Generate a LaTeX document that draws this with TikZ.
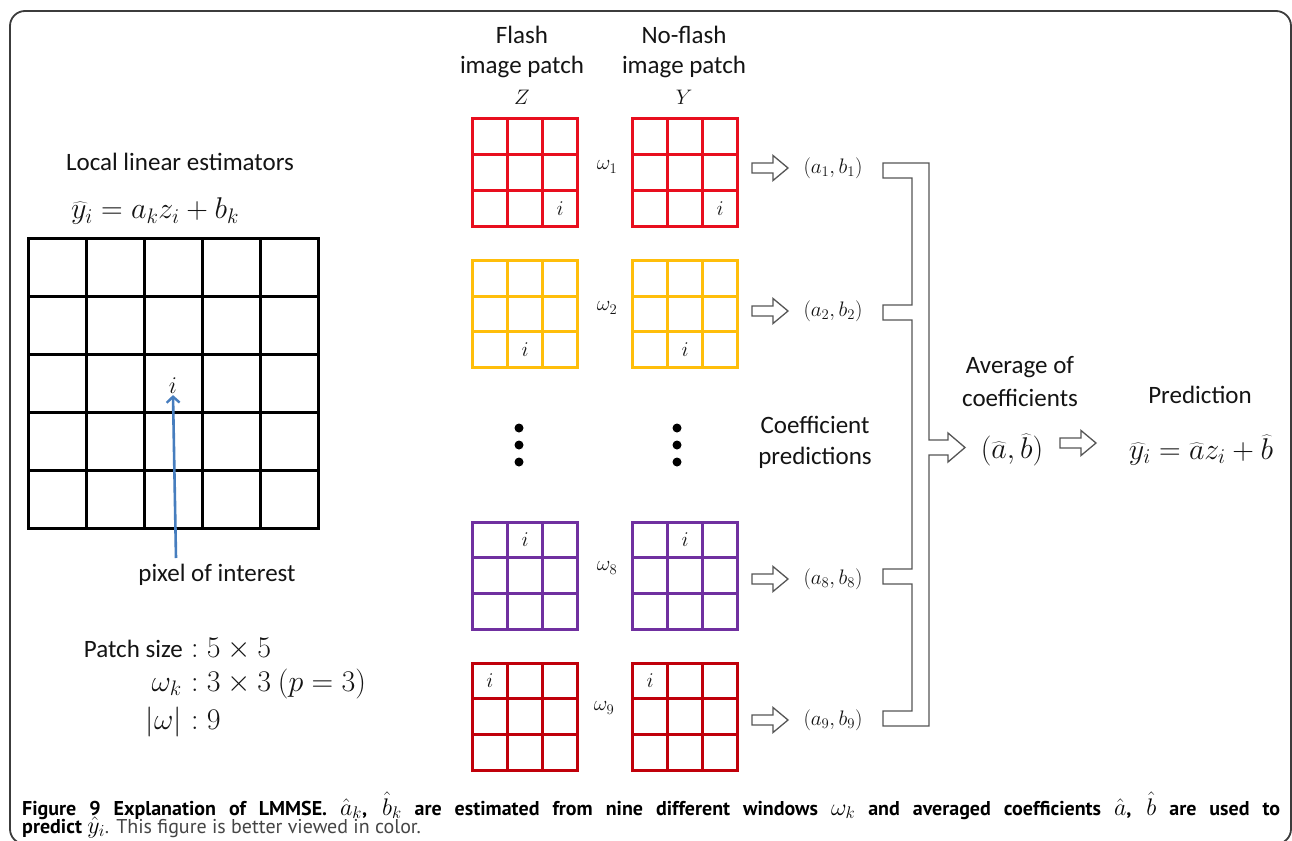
\RequirePackage{fix-cm}
\documentclass[tikz,border=0pt]{standalone}
\usepackage[no-math]{fontspec}
\setmainfont{Carlito}
\newfontfamily\capfont{PT Sans}
\usetikzlibrary{calc,arrows.meta}

\definecolor{ink}{RGB}{20,20,20}
\definecolor{framegray}{RGB}{60,60,60}
\definecolor{brgray}{RGB}{85,85,85}
\definecolor{pred}{RGB}{232,14,30}
\definecolor{pyellow}{RGB}{255,190,10}
\definecolor{ppurple}{RGB}{112,48,160}
\definecolor{pdark}{RGB}{192,0,10}
\definecolor{ptr}{RGB}{70,125,190}
\definecolor{capgray}{RGB}{70,70,70}

\tikzset{
  lbl/.style={font=\fontsize{25}{30}\selectfont, text=ink, inner sep=0},
  bigmath/.style={font=\fontsize{30}{36}\selectfont, text=ink, inner sep=0},
  smallmath/.style={font=\fontsize{21}{25}\selectfont, text=ink, inner sep=0},
  capline/.style={anchor=base west, inner sep=0, font=\capfont\fontsize{20}{22}\selectfont},
  patchbox/.style={draw, line width=3, minimum width=105, minimum height=107, inner sep=0, outer sep=0},
  patchline/.style={line width=3},
  bigbox/.style={draw=black, line width=3, minimum width=290, minimum height=290, inner sep=0, outer sep=0},
  gridline/.style={line width=3, draw=black},
  hollow/.style={draw=brgray, line width=1.3, fill=white, line join=miter},
  harrow/.pic={\draw[hollow] (0,-5) -- (21,-5) -- (21,-12.5) -- (36,0) -- (21,12.5) -- (21,5) -- (0,5) -- cycle;},
  dot/.style={circle, fill=black, minimum size=9, inner sep=0},
}

% math inside the caption, set a little larger than the caption text
\newcommand{\capm}[1]{{\fontsize{24}{24}\selectfont$#1$}}

% 3x3 window: name, centre x, centre y, colour, column and row of pixel i
\newcommand{\mkpatch}[6]{%
  \node[patchbox, draw=#4] (#1) at (#2,#3) {};
  \foreach \t in {1,2} {
    \draw[patchline, draw=#4] ($(#1.north west)!\t/3!(#1.north east)$) -- ($(#1.south west)!\t/3!(#1.south east)$);
    \draw[patchline, draw=#4] ($(#1.north west)!\t/3!(#1.south west)$) -- ($(#1.north east)!\t/3!(#1.south east)$);
  }
  \node[smallmath] (#1i) at ($(#1.north west)!{(#5-0.5)/3}!(#1.north east) + (0,{(#6-0.5)*107/3})$) {$i$};
}

\begin{document}
\begin{tikzpicture}[x=1pt,y=-1pt]
\useasboundingbox (0,0) rectangle (1292,840);
\clip (0,0) rectangle (1292,840);
\fill[white] (0,0) rectangle (1292,840);
\draw[draw=framegray, line width=1.8, rounded corners=15] (10,11) rectangle (1291,844);

% ---- left: local estimator on the 5x5 patch
\node[lbl] (title) at (180,162) {Local linear estimators};
\node[bigmath] (model) at (155,211) {$\widehat{y}_i = a_k z_i + b_k$};
\node[bigbox] (big) at (173.5,383) {};
\foreach \t in {1,...,4} {
  \draw[gridline] ($(big.north west)!\t/5!(big.north east)$) -- ($(big.south west)!\t/5!(big.south east)$);
  \draw[gridline] ($(big.north west)!\t/5!(big.south west)$) -- ($(big.north east)!\t/5!(big.south east)$);
}
\node[smallmath, font=\fontsize{24}{28}\selectfont] (ci) at (173,386) {$i$};
\node[lbl] (poi) at (217,575) {pixel of interest};
\coordinate (tail) at (176,558);
\draw[draw=ptr, line width=2.6, -{Straight Barb[length=6,width=13,line width=2.4]}] (tail) -- ([yshift=-1]ci.south);

% ---- parameters
\node[lbl, anchor=base east] (ps) at (183,657) {Patch size};
\node[bigmath, anchor=base west] (psv) at (191,657) {$:5\times 5$};
\node[bigmath, anchor=base east] (wk) at (182,691) {$\omega_k$};
\node[bigmath, anchor=base west] (wkv) at (191,691) {$:3\times 3\ (p=3)$};
\node[bigmath, anchor=base east] (wn) at (182,729) {$|\omega|$};
\node[bigmath, anchor=base west] (wnv) at (191,729) {$:9$};

% ---- column headers
\node[lbl] (h1a) at (522,35) {Flash};
\node[lbl] (h1b) at (522,67) {image patch};
\node[smallmath] (h1c) at (522,97) {$Z$};
\node[lbl] (h2a) at (684,35) {No-flash};
\node[lbl] (h2b) at (684,67) {image patch};
\node[smallmath] (h2c) at (684,97) {$Y$};

% ---- windows
\mkpatch{f1}{525}{172.5}{pred}{3}{3}
\mkpatch{n1}{685}{172.5}{pred}{3}{3}
\mkpatch{f2}{525}{314}{pyellow}{2}{3}
\mkpatch{n2}{685}{314}{pyellow}{2}{3}
\mkpatch{f8}{525}{575.5}{ppurple}{2}{1}
\mkpatch{n8}{685}{575.5}{ppurple}{2}{1}
\mkpatch{f9}{525}{716.5}{pdark}{1}{1}
\mkpatch{n9}{685}{716.5}{pdark}{1}{1}

\node[smallmath] (w1) at (607,167) {$\omega_1$};
\node[smallmath] (w2) at (607,308) {$\omega_2$};
\node[smallmath] (w8) at (607,568) {$\omega_8$};
\node[smallmath] (w9) at (604,708) {$\omega_9$};

\foreach \d/\y in {1/428,2/445,3/462} {
  \node[dot] (da\d) at (519,\y) {};
  \node[dot] (db\d) at (677,\y) {};
}

% ---- per-window coefficients
\pic at (752,168) {harrow};
\pic at (752,311) {harrow};
\pic at (752,579) {harrow};
\pic at (752,720) {harrow};
\node[smallmath] (c1) at (833,168) {$(a_1,b_1)$};
\node[smallmath] (c2) at (833,311) {$(a_2,b_2)$};
\node[smallmath] (c8) at (833,579) {$(a_8,b_8)$};
\node[smallmath] (c9) at (833,720) {$(a_9,b_9)$};
\node[lbl] (cp1) at (815,425) {Coefficient};
\node[lbl] (cp2) at (815,458) {predictions};

% ---- collecting bracket with its output arrow
\draw[hollow, fill=none] (883,163) -- (929,163) -- (929,440) -- (948,440) -- (948,433)
  -- (965,447.5) -- (948,462) -- (948,455) -- (929,455) -- (929,726) -- (883,726)
  -- (883,711) -- (912,711) -- (912,584) -- (883,584) -- (883,569) -- (912,569)
  -- (912,320) -- (883,320) -- (883,305) -- (912,305) -- (912,178) -- (883,178) -- cycle;

% ---- average and prediction
\node[lbl] (av1) at (1020,367) {Average of};
\node[lbl] (av2) at (1020,398) {coefficients};
\node[bigmath] (ab) at (1012,450) {$\Bigl(\widehat{a},\widehat{b}\Bigr)$};
\pic at (1060,443) {harrow};
\node[lbl] (pr) at (1200,395) {Prediction};
\node[bigmath] (pf) at (1201,450) {$\widehat{y}_i = \widehat{a} z_i + \widehat{b}$};

% ---- caption
\node[capline] (cap1) at (22,815)
  {\makebox[1258pt][s]{\bfseries Figure 9 Explanation of LMMSE. \capm{\hat{a}_k}, \capm{\hat{b}_k} are estimated from nine different windows \capm{\omega_k} and averaged coefficients \capm{\hat{a}}, \capm{\hat{b}} are used to}};
\node[capline] (cap2) at (22,833)
  {\textbf{predict} \capm{\hat{y}_i}\textcolor{capgray}{. This figure is better viewed in color.}};
\end{tikzpicture}
\end{document}
